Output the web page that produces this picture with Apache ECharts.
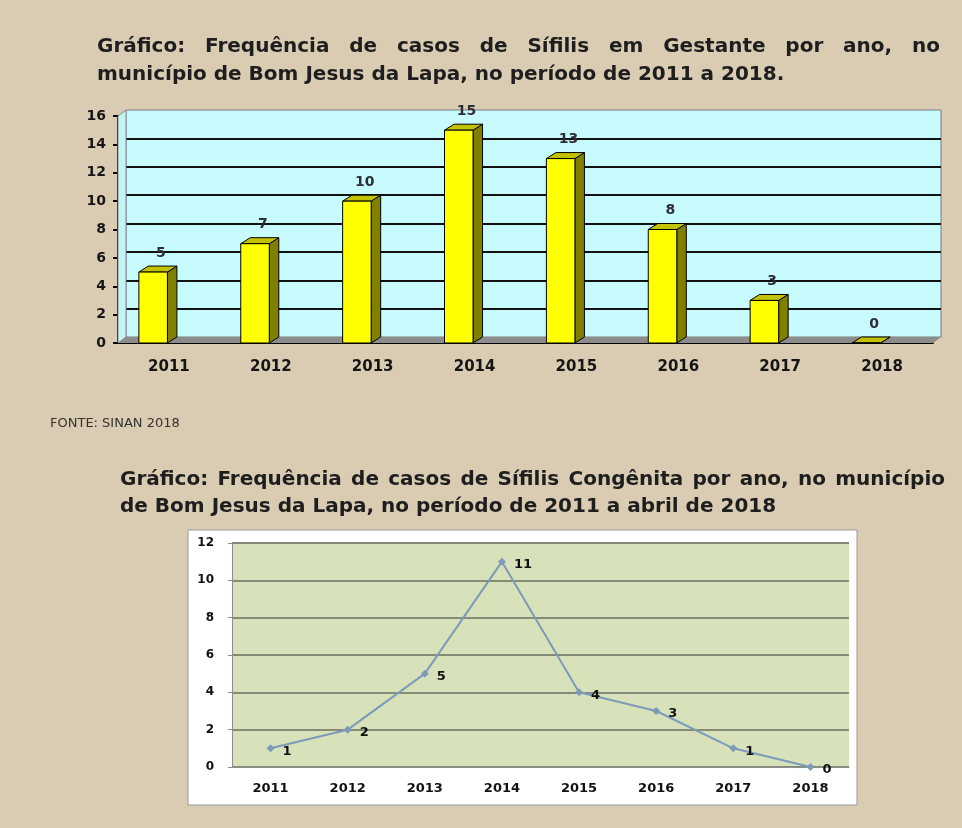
<!DOCTYPE html>
<html>
<head>
<meta charset="utf-8">
<title>Sífilis - Bom Jesus da Lapa</title>
<script src="https://cdn.jsdelivr.net/npm/echarts@6/dist/echarts.min.js"></script>
<style>
  html, body { margin: 0; padding: 0; background: #d9ccb3; }
  #main { width: 962px; height: 828px; }
</style>
</head>
<body>
<div id="main"></div>
<script>
// ---- data ----
const years = ['2011', '2012', '2013', '2014', '2015', '2016', '2017', '2018'];
const gestante = [5, 7, 10, 15, 13, 8, 3, 0];
const congenita = [1, 2, 5, 11, 4, 3, 1, 0];
const gestanteMax = 16;
const congenitaMax = 12;
const tickStep = 2;

const title1 = ['Gráfico:  Frequência de casos de Sífilis em Gestante  por ano, no',
                'município de Bom Jesus da Lapa, no período de 2011 a 2018.'];
const title2 = ['Gráfico:  Frequência de casos de  Sífilis Congênita por ano, no município',
                'de Bom Jesus da Lapa, no período de 2011 a abril de 2018'];
const fonte = 'FONTE: SINAN 2018';

// ---- helpers ----
const TITLE_FONT = 'bold 20px "DejaVu Sans"';
const TITLE_COLOR = '#1e1e1e';
const measure = document.createElement('canvas').getContext('2d');

function textEl(text, x, y, font, color) {
    return {
        type: 'text', x: x, y: y, z: 5,
        style: {
            text: text, font: font, fill: color,
            textAlign: 'left', textVerticalAlign: 'middle',
            align: 'left', verticalAlign: 'middle'
        }
    };
}

// spread the words of one line between x0 and x1 (justified like the original)
function justified(text, x0, x1, y) {
    measure.font = TITLE_FONT;
    const words = text.split(/\s+/);
    const widths = words.map(w => measure.measureText(w).width);
    const total = widths.reduce((a, b) => a + b, 0);
    const gap = (x1 - x0 - total) / (words.length - 1);
    let x = x0;
    return words.map((w, i) => {
        const el = textEl(w, x, y, TITLE_FONT, TITLE_COLOR);
        x += widths[i] + gap;
        return el;
    });
}

const DX = 9.5, DY = -6;

function renderBar(params, api) {
    const val = api.value(1);
    const top = api.coord([api.value(0), val]);
    const base = api.coord([api.value(0), 0]);
    const bw = api.size([1, 0])[0];
    const x0 = top[0] - bw * 0.295, x1 = top[0] - bw * 0.015;
    const t = top[1], b = base[1];
    return {
        type: 'group',
        children: [
            {type: 'polygon', shape: {points: [[x1, t], [x1 + DX, t + DY], [x1 + DX, b + DY], [x1, b]]},
             style: {fill: '#7f7f00', stroke: '#000', lineWidth: 1}},
            {type: 'polygon', shape: {points: [[x0, t], [x0 + DX, t + DY], [x1 + DX, t + DY], [x1, t]]},
             style: {fill: '#c2c200', stroke: '#000', lineWidth: 1}},
            {type: 'rect', shape: {x: x0, y: t, width: x1 - x0, height: b - t},
             style: {fill: '#ffff00', stroke: '#000', lineWidth: 1}},
            {type: 'text', x: top[0] - 8, y: t - 19,
             style: {text: String(val), font: 'bold 14px "DejaVu Sans"', fill: '#2e2e36',
                     textAlign: 'center', textVerticalAlign: 'middle', align: 'center', verticalAlign: 'middle'}}
        ]
    };
}

// side wall + floor of the 3D box
function renderWalls(params, api) {
    const bw = api.size([1, 0])[0];
    const p0 = api.coord([0, 0]);
    const pEnd = api.coord([years.length - 1, 0]);
    const pTop = api.coord([0, gestanteMax]);
    const left = p0[0] - bw / 2, right = pEnd[0] + bw / 2;
    const bottom = p0[1], topY = pTop[1];
    return {
        type: 'group',
        children: [
            {type: 'polygon', shape: {points: [[left, bottom], [left, topY], [left + 8, topY + DY], [left + 8, bottom + DY]]},
             style: {fill: '#c4f4f6', stroke: '#8a8a8a', lineWidth: 1}},
            {type: 'polygon', shape: {points: [[left, bottom], [right, bottom], [right + 8, bottom + DY], [left + 8, bottom + DY]]},
             style: {fill: '#8c8c8c'}}
        ]
    };
}

const chart = echarts.init(document.getElementById('main'));

const wallLineColors = ['transparent'];
for (let v = tickStep; v < gestanteMax; v += tickStep) wallLineColors.push('#111');
wallLineColors.push('transparent');

const option = {
    backgroundColor: '#d9ccb3',
    animation: false,
    graphic: [
        {type: 'rect', z: -1, shape: {x: 188, y: 530, width: 669, height: 275},
         style: {fill: '#ffffff', stroke: '#9a9a9a', lineWidth: 1}},
        ...justified(title1[0], 97, 940, 47),
        textEl(title1[1], 97, 75, TITLE_FONT, TITLE_COLOR),
        textEl(fonte, 50, 424, '13px "DejaVu Sans"', '#333'),
        ...justified(title2[0], 120, 945, 480),
        textEl(title2[1], 120, 507, TITLE_FONT, TITLE_COLOR)
    ],
    grid: [
        {left: 118, top: 116, width: 815, height: 227},
        {left: 126, top: 110, width: 815, height: 227, show: true,
         backgroundColor: '#c8fbfd', borderColor: '#7a7a7a', borderWidth: 1},
        {left: 232, top: 543, width: 617, height: 224, show: true,
         backgroundColor: '#d7e2bb', borderWidth: 0}
    ],
    xAxis: [
        {type: 'category', gridIndex: 0, data: years,
         axisLine: {lineStyle: {color: '#000', width: 2}},
         axisTick: {length: 5, lineStyle: {color: '#000', width: 2}},
         axisLabel: {margin: 17, color: '#151515', fontFamily: 'DejaVu Sans', fontWeight: 'bold', fontSize: 15}},
        {type: 'value', gridIndex: 1, min: 0, max: 1, show: false},
        {type: 'category', gridIndex: 2, data: years,
         axisLine: {lineStyle: {color: '#8d8d8d', width: 1}},
         axisTick: {length: 5, lineStyle: {color: '#8d8d8d'}},
         axisLabel: {margin: 15, color: '#111', fontFamily: 'DejaVu Sans', fontWeight: 'bold', fontSize: 13}}
    ],
    yAxis: [
        {type: 'value', gridIndex: 0, min: 0, max: gestanteMax, interval: tickStep,
         axisLine: {show: true, lineStyle: {color: '#000', width: 2}},
         axisTick: {show: true, length: 5, lineStyle: {color: '#000', width: 2}},
         axisLabel: {margin: 12, color: '#151515', fontFamily: 'DejaVu Sans', fontWeight: 'bold', fontSize: 14},
         splitLine: {show: false}},
        {type: 'value', gridIndex: 1, min: 0, max: gestanteMax, interval: tickStep,
         axisLine: {show: false}, axisTick: {show: false}, axisLabel: {show: false},
         splitLine: {show: true, lineStyle: {color: wallLineColors, width: 2}}},
        {type: 'value', gridIndex: 2, min: 0, max: congenitaMax, interval: tickStep,
         axisLine: {show: true, lineStyle: {color: '#8d8d8d'}},
         axisTick: {show: true, length: 4, lineStyle: {color: '#8d8d8d'}},
         axisLabel: {margin: 18, color: '#111', fontFamily: 'DejaVu Sans', fontWeight: 'bold', fontSize: 12},
         splitLine: {show: true, lineStyle: {color: '#868b78', width: 2}}}
    ],
    series: [
        {type: 'custom', name: 'walls', xAxisIndex: 0, yAxisIndex: 0, z: 1,
         renderItem: renderWalls, data: [[0, 0]], silent: true},
        {type: 'custom', name: 'Sífilis em Gestante', xAxisIndex: 0, yAxisIndex: 0, z: 3,
         renderItem: renderBar, encode: {x: 0, y: 1},
         data: gestante.map((v, i) => [i, v])},
        {type: 'line', name: 'Sífilis Congênita', xAxisIndex: 2, yAxisIndex: 2,
         data: congenita, smooth: false,
         symbol: 'diamond', symbolSize: 8,
         lineStyle: {color: '#7d9bb8', width: 2},
         itemStyle: {color: '#7d9bb8'},
         label: {show: true, position: 'right', distance: 8, offset: [0, 3],
                 color: '#111', fontFamily: 'DejaVu Sans', fontWeight: 'bold', fontSize: 13}}
    ]
};

chart.setOption(option);
</script>
</body>
</html>
